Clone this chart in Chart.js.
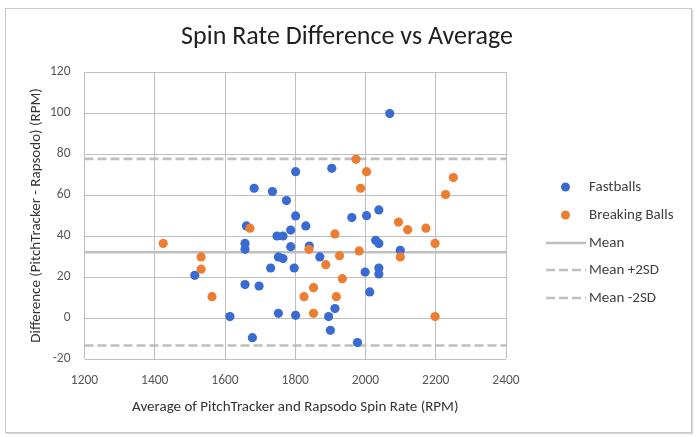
<!DOCTYPE html>
<html>
<head>
<meta charset="utf-8">
<script src="https://cdn.jsdelivr.net/npm/chart.js@4/dist/chart.umd.min.js"></script>
<style>
  html, body { margin: 0; padding: 0; background: #fff; }
  .frame { position: relative; width: 696px; height: 437px; }
  .border {
    position: absolute; left: 5px; top: 8px; width: 685px; height: 423px;
    border: 1px solid #c9c9c9; box-shadow: 1px 1px 1px #d8d8d8;
  }
  canvas { position: absolute; left: 0; top: 0; }
</style>
</head>
<body>
<div class="frame">
  <div class="border"></div>
  <canvas id="chart" width="696" height="437"></canvas>
</div>
<script>
const FONT = 'Carlito, Calibri, Lato, sans-serif'

const fastX = [1514, 1614, 1657, 1657, 1661, 1657, 1697, 1678, 1683, 1735, 1775, 1801, 1801, 1787,
  1748, 1765, 1787, 1752, 1765, 1730, 1797, 1752, 1801, 2069, 1904, 1830, 1840, 1870, 1961, 2003,
  2038, 2029, 2038, 2099, 1999, 2038, 2038, 2012, 1913, 1895, 1900, 1977]
const fastY = [20.8, 0.7, 36.4, 33.5, 44.9, 16.3, 15.6, -9.6, 63.3, 61.7, 57.3, 71.4, 49.8, 42.9,
  40.0, 40.0, 34.8, 29.8, 29.0, 24.4, 24.4, 2.3, 1.3, 99.7, 73.0, 44.9, 35.1, 29.8, 49.0, 49.9,
  52.7, 37.9, 36.4, 33.0, 22.4, 24.4, 21.5, 12.7, 4.6, 0.7, -6.0, -12.0]

const breakX = [1424, 1532, 1532, 1563, 1671, 1973, 2003, 1986, 2250, 2228, 2094, 2120, 2172,
  2198, 1913, 1839, 1926, 1982, 2099, 1887, 1934, 1852, 1825, 1917, 1852, 2198]
const breakY = [36.4, 29.8, 23.8, 10.4, 43.8, 77.4, 71.4, 63.3, 68.5, 60.2, 46.8, 43.1, 43.8,
  36.4, 41.0, 33.5, 30.4, 32.7, 29.8, 26.0, 19.2, 14.8, 10.4, 10.4, 2.3, 0.7]

const meanValue = 32.1
const upperValue = 77.6
const lowerValue = -13.4
const lineSpanX = [1200, 2400]

const xTicks = [1200, 1400, 1600, 1800, 2000, 2200, 2400]
const yTicks = [-20, 0, 20, 40, 60, 80, 100, 120]

const BLUE = '#3a6bd2'
const ORANGE = '#ed7d31'
const GREY = '#bfbfbf'

const toPoints = (xs, ys) => xs.map((x, i) => ({ x, y: ys[i] }))
const flatLine = (value) => lineSpanX.map((x) => ({ x, y: value }))

function lineDataset(label, value, dash) {
  return {
    label,
    data: flatLine(value),
    showLine: true,
    borderColor: GREY,
    backgroundColor: GREY,
    borderWidth: dash ? 2.6 : 2.4,
    borderDash: dash || [],
    pointRadius: 0,
    order: 3,
  }
}

const titlePlugin = {
  id: 'excelTitle',
  afterDraw(chart) {
    const ctx = chart.ctx
    ctx.save()
    ctx.font = `26px ${FONT}`
    ctx.fillStyle = '#1f1f1f'
    ctx.textAlign = 'center'
    ctx.textBaseline = 'middle'
    ctx.fillText('Spin Rate Difference vs Average', 347, 37)
    ctx.restore()
  },
}

const legendPlugin = {
  id: 'sideLegend',
  afterDraw(chart) {
    const ctx = chart.ctx
    const rows = [187, 215, 243, 270, 298]
    const textX = 589
    ctx.save()
    chart.data.datasets.forEach((ds, i) => {
      const y = rows[i]
      if (ds.showLine) {
        ctx.strokeStyle = ds.borderColor
        ctx.lineWidth = ds.borderWidth
        ctx.setLineDash(ds.borderDash)
        ctx.beginPath()
        ctx.moveTo(546, y)
        ctx.lineTo(586, y)
        ctx.stroke()
        ctx.setLineDash([])
      } else {
        ctx.fillStyle = ds.backgroundColor
        ctx.beginPath()
        ctx.arc(565.5, y, 4.5, 0, Math.PI * 2)
        ctx.fill()
      }
      ctx.font = `15px ${FONT}`
      ctx.fillStyle = '#404040'
      ctx.textAlign = 'left'
      ctx.textBaseline = 'middle'
      ctx.fillText(ds.label, textX, y)
    })
    ctx.restore()
  },
}

new Chart(document.getElementById('chart'), {
  type: 'scatter',
  data: {
    datasets: [
      {
        label: 'Fastballs',
        data: toPoints(fastX, fastY),
        backgroundColor: BLUE,
        borderColor: BLUE,
        pointRadius: 4.6,
        borderWidth: 0,
        order: 2,
      },
      {
        label: 'Breaking Balls',
        data: toPoints(breakX, breakY),
        backgroundColor: ORANGE,
        borderColor: ORANGE,
        pointRadius: 4.6,
        borderWidth: 0,
        order: 1,
      },
      lineDataset('Mean', meanValue),
      lineDataset('Mean +2SD', upperValue, [9, 4]),
      lineDataset('Mean -2SD', lowerValue, [9, 4]),
    ],
  },
  options: {
    responsive: false,
    animation: false,
    layout: { padding: { left: 0, right: 190, top: 72, bottom: 0 } },
    plugins: {
      legend: { display: false },
      title: { display: false },
      tooltip: { enabled: false },
    },
    scales: {
      x: {
        type: 'linear',
        min: 1200,
        max: 2400,
        afterBuildTicks: (scale) => { scale.ticks = xTicks.map((value) => ({ value })) },
        afterFit: (scale) => { scale.height = 78 },
        grid: { color: GREY, lineWidth: 1, drawTicks: false },
        border: { display: false },
        ticks: {
          color: '#595959',
          font: { family: FONT, size: 13.5 },
          padding: 14,
          callback: (value) => String(value),
        },
        title: {
          display: true,
          text: 'Average of PitchTracker and Rapsodo Spin Rate (RPM)',
          color: '#333333',
          font: { family: FONT, size: 15 },
          padding: { top: 0, bottom: 21 },
        },
      },
      y: {
        type: 'linear',
        min: -20,
        max: 120,
        afterBuildTicks: (scale) => { scale.ticks = yTicks.map((value) => ({ value })) },
        afterFit: (scale) => { scale.width = 84.5 },
        grid: { color: GREY, lineWidth: 1, drawTicks: false },
        border: { display: false },
        ticks: {
          color: '#595959',
          font: { family: FONT, size: 13.5 },
          padding: 14,
          callback: (value) => String(value),
        },
        title: {
          display: true,
          text: 'Difference (PitchTracker - Rapsodo) (RPM)',
          color: '#333333',
          font: { family: FONT, size: 15 },
          padding: { top: 27, bottom: 0 },
        },
      },
    },
  },
  plugins: [titlePlugin, legendPlugin],
})
</script>
</body>
</html>
